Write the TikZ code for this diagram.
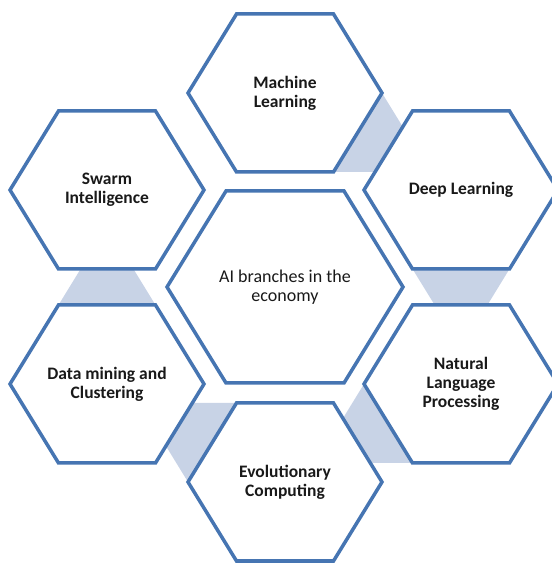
\documentclass[tikz,border=0pt]{standalone}
\usepackage{fontspec}
\setmainfont{Carlito}
\definecolor{hexblue}{RGB}{70,117,178}
\definecolor{linkblue}{RGB}{200,211,230}
\begin{document}
\begin{tikzpicture}[x=1pt,y=1pt,
    hexline/.style={draw=hexblue, line width=3.5pt, fill=white, line join=miter},
    linkfill/.style={fill=linkblue},
    branch/.style={align=center, text=black!90, font=\fontsize{17.5}{19}\selectfont\bfseries},
    hub/.style={align=center, text=black!90, font=\fontsize{18}{19.5}\selectfont}]
    \useasboundingbox (0,0) rectangle (552,563);

    % corners of the hexagons
    \foreach \n/\cx/\cy/\r/\h in {ML/285/470/97/79, DL/461/373/97/79, NLP/461/179/97/79,
                                  EC/285/81/97/79, DM/107/179/97/79, SW/107/373/97/79, AI/285/276/118/96} {
        \coordinate (\n-e) at (\cx+\r,\cy);
        \coordinate (\n-ne) at (\cx+\r/2,\cy+\h);
        \coordinate (\n-nw) at (\cx-\r/2,\cy+\h);
        \coordinate (\n-w) at (\cx-\r,\cy);
        \coordinate (\n-sw) at (\cx-\r/2,\cy-\h);
        \coordinate (\n-se) at (\cx+\r/2,\cy-\h);
    }

    % links between neighbouring branches
    \coordinate (ML2DLa) at (intersection cs: first line={(ML-ne)--(ML-e)}, second line={(DL-w)--(DL-nw)});
    \coordinate (ML2DLb) at (intersection cs: first line={(ML-sw)--(ML-se)}, second line={(DL-w)--(DL-nw)});
    \coordinate (DL2NLPa) at (intersection cs: first line={(DL-w)--(DL-sw)}, second line={(NLP-nw)--(NLP-ne)});
    \coordinate (DL2NLPb) at (intersection cs: first line={(DL-e)--(DL-se)}, second line={(NLP-nw)--(NLP-ne)});
    \coordinate (NLP2ECa) at (intersection cs: first line={(NLP-nw)--(NLP-w)}, second line={(EC-ne)--(EC-e)});
    \coordinate (NLP2ECb) at (intersection cs: first line={(NLP-se)--(NLP-sw)}, second line={(EC-ne)--(EC-e)});
    \coordinate (EC2DMa) at (intersection cs: first line={(EC-ne)--(EC-nw)}, second line={(DM-e)--(DM-se)});
    \coordinate (EC2DMb) at (intersection cs: first line={(EC-sw)--(EC-w)}, second line={(DM-e)--(DM-se)});
    \coordinate (DM2SWa) at (intersection cs: first line={(DM-w)--(DM-nw)}, second line={(SW-sw)--(SW-se)});
    \coordinate (DM2SWb) at (intersection cs: first line={(DM-e)--(DM-ne)}, second line={(SW-sw)--(SW-se)});

    \fill[linkfill] (ML-e) -- (ML2DLa) -- (ML2DLb) -- (ML-se) -- cycle;
    \fill[linkfill] (DL-sw) -- (DL2NLPa) -- (DL2NLPb) -- (DL-se) -- cycle;
    \fill[linkfill] (NLP-w) -- (NLP2ECa) -- (NLP2ECb) -- (NLP-sw) -- cycle;
    \fill[linkfill] (EC-nw) -- (EC2DMa) -- (EC2DMb) -- (EC-w) -- cycle;
    \fill[linkfill] (DM-nw) -- (DM2SWa) -- (DM2SWb) -- (DM-ne) -- cycle;

    % hexagons
    \foreach \n in {ML, DL, NLP, EC, DM, SW, AI} {
        \draw[hexline] (\n-e) -- (\n-ne) -- (\n-nw) -- (\n-w) -- (\n-sw) -- (\n-se) -- cycle;
    }

    \node[hub] (AI) at (285,276) {AI branches in the\\economy};
    \node[branch] (ML) at (285,470) {Machine\\Learning};
    \node[branch] (DL) at (461,373) {Deep Learning};
    \node[branch] (NLP) at (461,179) {Natural\\Language\\Processing};
    \node[branch] (EC) at (285,81) {Evolutionary\\Computing};
    \node[branch] (DM) at (107,179) {Data mining and\\Clustering};
    \node[branch] (SW) at (107,373) {Swarm\\Intelligence};
\end{tikzpicture}
\end{document}
